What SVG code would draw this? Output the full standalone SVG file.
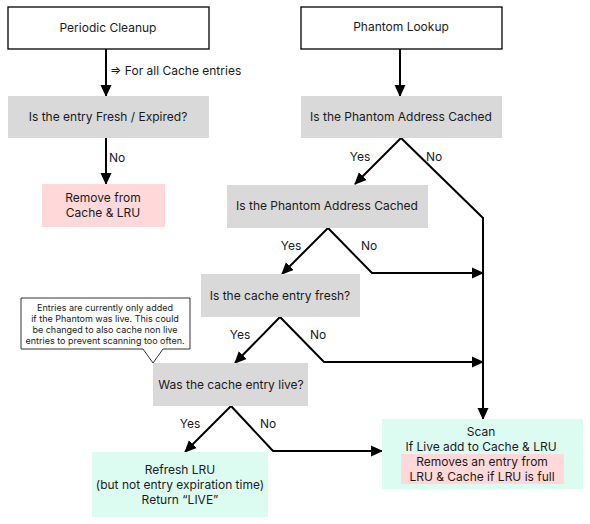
<svg xmlns="http://www.w3.org/2000/svg" width="590" height="524" viewBox="0 0 590 524">
<style>
text{font-family:Inter,"Noto Sans","Liberation Sans",sans-serif;font-size:12px;fill:#1a1a1a;text-anchor:middle}
.lbl{text-anchor:start}
.sm{font-size:9px}
.start{fill:#fff;stroke:#000;stroke-width:1.3}
.q{fill:#d9d9d9}
.pink{fill:#ffd9d9}
.mint{fill:#dcfcf2}
.ln{fill:none;stroke:#000;stroke-width:2}
</style>
<defs>
<marker id="ah" markerUnits="userSpaceOnUse" markerWidth="12" markerHeight="12" viewBox="0 0 12 12" refX="11" refY="6" orient="auto">
<path d="M0,0.5 L12,6 L0,11.5 Z" fill="#000"/>
</marker>
</defs>
<g id="connectors">
<line class="ln" x1="106" y1="49" x2="106" y2="96" marker-end="url(#ah)"/>
<text class="lbl" x="110" y="75">⇒ For all Cache entries</text>
<line class="ln" x1="106" y1="138" x2="106" y2="184" marker-end="url(#ah)"/>
<text class="lbl" x="109" y="162">No</text>
<line class="ln" x1="400" y1="49" x2="400" y2="96" marker-end="url(#ah)"/>
<line class="ln" x1="401" y1="138" x2="355" y2="184" marker-end="url(#ah)"/>
<text x="360" y="161">Yes</text>
<polyline class="ln" points="401,138 483,218 483,419" marker-end="url(#ah)"/>
<text x="434" y="161">No</text>
<line class="ln" x1="328" y1="228" x2="282" y2="274" marker-end="url(#ah)"/>
<text x="291" y="250">Yes</text>
<polyline class="ln" points="328,228 372,273 483,273" marker-end="url(#ah)"/>
<text x="369" y="250">No</text>
<line class="ln" x1="280" y1="317" x2="235" y2="363" marker-end="url(#ah)"/>
<text x="240" y="339">Yes</text>
<polyline class="ln" points="280,317 324,362 483,362" marker-end="url(#ah)"/>
<text x="318" y="339">No</text>
<line class="ln" x1="231" y1="406" x2="185" y2="452" marker-end="url(#ah)"/>
<text x="190" y="428">Yes</text>
<polyline class="ln" points="231,406 273,451 382,451" marker-end="url(#ah)"/>
<text x="268" y="428">No</text>
</g>
<g id="periodic-cleanup">
<rect class="start" x="8" y="7" width="201" height="42"/>
<text x="108" y="32">Periodic Cleanup</text>
</g>
<g id="fresh-expired">
<rect class="q" x="8" y="96" width="201" height="42"/>
<text x="108" y="121">Is the entry Fresh / Expired?</text>
</g>
<g id="remove">
<rect class="pink" x="42" y="184" width="123" height="43"/>
<text x="103" y="202">Remove from</text>
<text x="103" y="217">Cache &amp; LRU</text>
</g>
<g id="phantom-lookup">
<rect class="start" x="301" y="7" width="201" height="42"/>
<text x="401" y="31">Phantom Lookup</text>
</g>
<g id="cached-1">
<rect class="q" x="301" y="96" width="201" height="42"/>
<text x="401" y="121">Is the Phantom Address Cached</text>
</g>
<g id="cached-2">
<rect class="q" x="227" y="185" width="201" height="43"/>
<text x="327" y="210">Is the Phantom Address Cached</text>
</g>
<g id="entry-fresh">
<rect class="q" x="201" y="274" width="159" height="43"/>
<text x="280" y="300">Is the cache entry fresh?</text>
</g>
<g id="entry-live">
<rect class="q" x="153" y="363" width="155" height="43"/>
<text x="231" y="389">Was the cache entry live?</text>
</g>
<g id="refresh">
<rect class="mint" x="92" y="452" width="176" height="65"/>
<text x="180" y="474">Refresh LRU</text>
<text x="180" y="489">(but not entry expiration time)</text>
<text x="180" y="504">Return “LIVE”</text>
</g>
<g id="scan">
<rect class="mint" x="382" y="419" width="201" height="70"/>
<text x="481" y="436">Scan</text>
<text x="481" y="451">If Live add to Cache &amp; LRU</text>
<rect class="pink" x="401" y="454" width="163" height="30"/>
<text x="482" y="466">Removes an entry from</text>
<text x="482" y="481">LRU &amp; Cache if LRU is full</text>
</g>
<g id="note">
<path d="M21,298 H190 V349 H163 L153,363 L143,349 H21 Z" fill="#fff" stroke="#333" stroke-width="1"/>
<text class="sm" x="105" y="311">Entries are currently only added</text>
<text class="sm" x="105" y="322">if the Phantom was live. This could</text>
<text class="sm" x="105" y="333">be changed to also cache non live</text>
<text class="sm" x="105" y="344">entries to prevent scanning too often.</text>
</g>
</svg>
